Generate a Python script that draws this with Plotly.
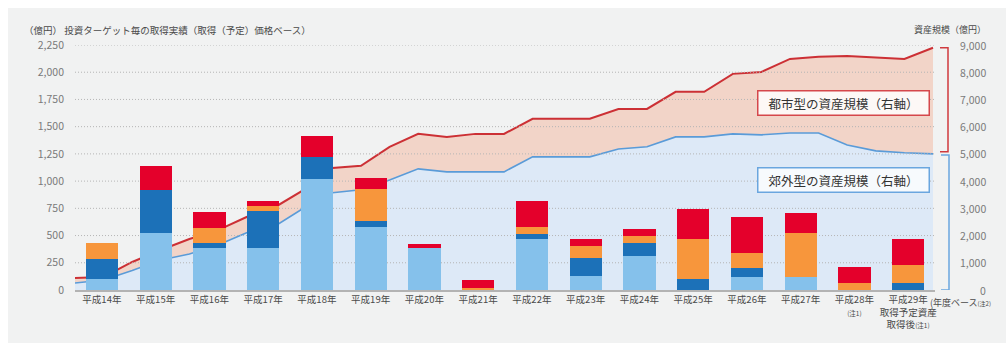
import plotly.graph_objects as go

# ---- acquisition results by investment target (left axis, 億円) ----
years = ["平成14年", "平成15年", "平成16年", "平成17年", "平成18年", "平成19年",
         "平成20年", "平成21年", "平成22年", "平成23年", "平成24年", "平成25年",
         "平成26年", "平成27年", "平成28年", "平成29年"]
year_labels = years[:14] + [
    "平成28年<br><span style='font-size:6.5px'>(注1)</span>",
    "平成29年<br>取得予定資産<br>取得後<span style='font-size:6.5px'>(注1)</span>",
]
acq_light_blue = [105, 520, 390, 390, 1015, 580, 390, 0, 465, 125, 310, 0, 120, 120, 0, 0]
acq_dark_blue = [180, 400, 45, 335, 205, 55, 0, 0, 50, 165, 120, 100, 80, 0, 0, 60]
acq_orange = [145, 0, 130, 45, 0, 295, 0, 15, 60, 110, 65, 365, 140, 400, 60, 170]
acq_red = [0, 220, 155, 45, 190, 100, 35, 80, 240, 65, 65, 275, 335, 190, 155, 235]

# ---- asset scale by fiscal period (right axis, 億円) ----
suburban_scale = [257, 370, 715, 1100, 1320, 1650, 2100, 2350, 3010, 3570, 3680,
                  4040, 4450, 4340, 4340, 4340, 4890, 4890, 4890, 5180, 5260,
                  5625, 5625, 5735, 5700, 5770, 5770, 5330, 5110, 5040, 5000]
total_scale = [440, 480, 1030, 1470, 1875, 2200, 2680, 3050, 3680, 4485, 4560,
               5260, 5735, 5625, 5735, 5735, 6290, 6290, 6290, 6650, 6650,
               7280, 7280, 7940, 8010, 8490, 8570, 8600, 8550, 8490, 8900]

left_ticks = list(range(0, 2251, 250))
right_ticks = list(range(0, 9001, 1000))

# ---- page geometry ----
W, H = 1006, 343
L, R, T, B = 75, 71, 45, 53
PW, PH = W - L - R, H - T - B
FONT = "Noto Sans CJK JP, Noto Sans, sans-serif"


def xp(px):
    return (px - L) / PW


def yp(py):
    return (H - B - py) / PH


periods = list(range(len(total_scale)))
period_max = (len(periods) - 1) * PW / (PW - 2)

fig = go.Figure()

# asset-scale areas on the base axes (drawn underneath the bars)
fig.add_trace(go.Scatter(
    x=periods, y=suburban_scale, mode="lines", fill="tozeroy",
    fillcolor="#dde9f7", line=dict(color="#5a9bd8", width=1.6),
    hoverinfo="skip", showlegend=False, xaxis="x", yaxis="y"))
fig.add_trace(go.Scatter(
    x=periods, y=total_scale, mode="lines", fill="tonexty",
    fillcolor="#f2d4c8", line=dict(color="#cc3035", width=2),
    hoverinfo="skip", showlegend=False, xaxis="x", yaxis="y"))

# dotted grid drawn over the filled areas
gx, gy = [], []
for v in right_ticks[1:]:
    gx += [0, period_max, None]
    gy += [v, v, None]
fig.add_trace(go.Scatter(
    x=gx, y=gy, mode="lines", line=dict(color="#b5b5b5", width=1, dash="1px,2px"),
    hoverinfo="skip", showlegend=False, xaxis="x", yaxis="y"))

# stacked acquisition bars on the overlaying axes
for vals, color in [(acq_light_blue, "#85c1eb"), (acq_dark_blue, "#1c71b8"),
                    (acq_orange, "#f7963c"), (acq_red, "#e4002b")]:
    fig.add_trace(go.Bar(
        x=years, y=vals, marker=dict(color=color, line=dict(width=0)),
        hoverinfo="skip", showlegend=False, xaxis="x2", yaxis="y2"))

annotations = [
    dict(text="（億円） 投資ターゲット毎の取得実績（取得（予定）価格ベース）",
         x=xp(22), y=yp(30), xanchor="left", yanchor="middle",
         font=dict(size=9.5, color="#4a4a4a")),
    dict(text="資産規模（億円）", x=xp(988), y=yp(30), xanchor="right",
         yanchor="middle", font=dict(size=9, color="#4a4a4a")),
    dict(text="(年度ベース<span style='font-size:6px'>(注2)</span>",
         x=xp(928), y=yp(302), xanchor="left", yanchor="middle",
         font=dict(size=9, color="#4a4a4a")),
    dict(text="都市型の資産規模（右軸）", x=xp(843), y=yp(103),
         xanchor="center", yanchor="middle", font=dict(size=12.5, color="#333333"),
         bgcolor="#fdf8f6", bordercolor="#d5474b", borderwidth=1.5, borderpad=3,
         width=164, height=17),
    dict(text="郊外型の資産規模（右軸）", x=xp(843), y=yp(180),
         xanchor="center", yanchor="middle", font=dict(size=12.5, color="#333333"),
         bgcolor="#f7fafd", bordercolor="#6aa6df", borderwidth=1.5, borderpad=3,
         width=164, height=17),
]
for a in annotations:
    a.update(xref="paper", yref="paper", showarrow=False)

# right-axis labels, right aligned
for v in right_ticks:
    annotations.append(dict(
        text=f"{v:,}", x=xp(988), y=v, xref="paper", yref="y",
        xanchor="right", yanchor="middle", showarrow=False,
        font=dict(size=10.5, color="#7a7a7a")))

red_top, split = total_scale[-1], suburban_scale[-1]
shapes = [
    dict(type="rect", xref="paper", yref="paper", x0=xp(8), x1=xp(W), y0=yp(H), y1=yp(8),
         fillcolor="#f1f2f2", line=dict(width=0), layer="below"),
    dict(type="path", xref="paper", yref="y",
         path=f"M {xp(940)},{red_top} L {xp(948)},{red_top} L {xp(948)},{split + 80} L {xp(940)},{split + 80}",
         line=dict(color="#cf3a3e", width=1.5)),
    dict(type="path", xref="paper", yref="y",
         path=f"M {xp(941)},{split - 40} L {xp(949)},{split - 40} L {xp(949)},0 L {xp(941)},0",
         line=dict(color="#6aa6df", width=1.5)),
]

fig.update_layout(
    width=W, height=H,
    margin=dict(l=L, r=R, t=T, b=B, pad=0),
    paper_bgcolor="#ffffff", plot_bgcolor="#fcfcfc",
    font=dict(family=FONT, color="#4a4a4a"),
    barmode="stack", bargap=0.4,
    xaxis=dict(range=[0, period_max], visible=False, fixedrange=True),
    yaxis=dict(range=[0, 9000], side="right", showgrid=False, zeroline=False,
               showticklabels=False, ticks="", fixedrange=True),
    xaxis2=dict(overlaying="x", anchor="y2", side="bottom", type="category",
                range=[-0.5, len(years) - 0.5], tickmode="array",
                tickvals=years, ticktext=year_labels, ticks="",
                tickfont=dict(size=9.5, color="#4a4a4a"),
                showline=True, linecolor="#b3b3b3", linewidth=1.5,
                showgrid=False, zeroline=False, fixedrange=True),
    yaxis2=dict(overlaying="y", anchor="x2", side="left", range=[0, 2250],
                tickmode="array", tickvals=left_ticks, tickformat=",d",
                ticks="", ticklabelstandoff=10, showgrid=False, zeroline=False,
                tickfont=dict(size=10.5, color="#7a7a7a"), fixedrange=True),
    annotations=annotations,
    shapes=shapes,
)

fig.write_html("out.html")
